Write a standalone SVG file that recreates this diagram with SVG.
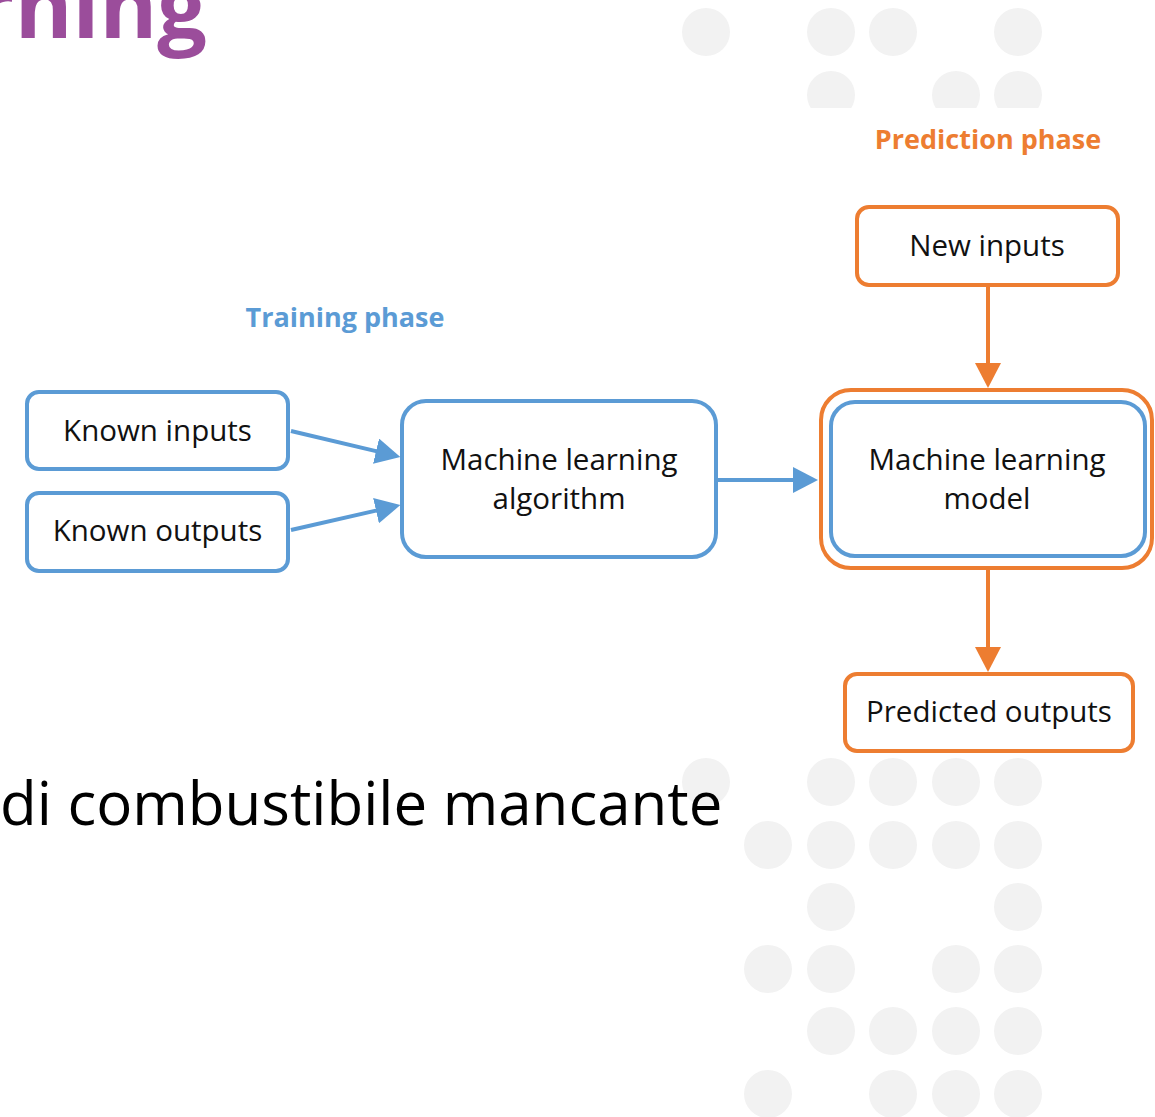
<svg xmlns="http://www.w3.org/2000/svg" width="1155" height="1117" viewBox="0 0 1155 1117">
<style>
.dot{fill:#f2f2f2}
.bx{fill:#fff;stroke-width:4}
.blue{stroke:#5b9bd5}
.orange{stroke:#ed7d31}
.lbl{font-family:"Open Sans","Noto Sans",sans-serif;font-size:29.5px;fill:#111;text-anchor:middle}
.ph{font-family:"Open Sans","Noto Sans",sans-serif;font-size:27px;font-weight:bold;text-anchor:middle}
.cb{stroke:#5b9bd5;stroke-width:4;fill:none}
.co{stroke:#ed7d31;stroke-width:4;fill:none}
</style>
<defs>
<clipPath id="topclip"><rect x="0" y="0" width="1155" height="108"/></clipPath>
<marker id="ahb" markerUnits="userSpaceOnUse" markerWidth="26" markerHeight="26" viewBox="0 0 26 26" refX="1" refY="13" orient="auto"><path d="M0,0 L25,13 L0,26 z" fill="#5b9bd5"/></marker>
<marker id="aho" markerUnits="userSpaceOnUse" markerWidth="26" markerHeight="26" viewBox="0 0 26 26" refX="1" refY="13" orient="auto"><path d="M0,0 L25,13 L0,26 z" fill="#ed7d31"/></marker>
</defs>
<rect width="1155" height="1117" fill="#fff"/>
<g id="dots-top" clip-path="url(#topclip)">
<circle class="dot" cx="706" cy="32" r="24"/><circle class="dot" cx="831" cy="32" r="24"/><circle class="dot" cx="893" cy="32" r="24"/><circle class="dot" cx="1018" cy="32" r="24"/>
<circle class="dot" cx="831" cy="95" r="24"/><circle class="dot" cx="956" cy="95" r="24"/><circle class="dot" cx="1018" cy="95" r="24"/>
</g>
<g id="dots-bottom">
<circle class="dot" cx="706" cy="782" r="24"/><circle class="dot" cx="831" cy="782" r="24"/><circle class="dot" cx="893" cy="782" r="24"/><circle class="dot" cx="956" cy="782" r="24"/><circle class="dot" cx="1018" cy="782" r="24"/>
<circle class="dot" cx="768" cy="845" r="24"/><circle class="dot" cx="831" cy="845" r="24"/><circle class="dot" cx="893" cy="845" r="24"/><circle class="dot" cx="956" cy="845" r="24"/><circle class="dot" cx="1018" cy="845" r="24"/>
<circle class="dot" cx="831" cy="907" r="24"/><circle class="dot" cx="1018" cy="907" r="24"/>
<circle class="dot" cx="768" cy="969" r="24"/><circle class="dot" cx="831" cy="969" r="24"/><circle class="dot" cx="956" cy="969" r="24"/><circle class="dot" cx="1018" cy="969" r="24"/>
<circle class="dot" cx="831" cy="1031" r="24"/><circle class="dot" cx="893" cy="1031" r="24"/><circle class="dot" cx="956" cy="1031" r="24"/><circle class="dot" cx="1018" cy="1031" r="24"/>
<circle class="dot" cx="768" cy="1094" r="24"/><circle class="dot" cx="893" cy="1094" r="24"/><circle class="dot" cx="956" cy="1094" r="24"/><circle class="dot" cx="1018" cy="1094" r="24"/>
</g>
<text id="title" x="207" y="38" font-family="'Open Sans','Noto Sans',sans-serif" font-size="88" font-weight="bold" fill="#9b4d9b" text-anchor="end">rning</text>
<text id="body" x="0" y="825" font-family="'Open Sans','Noto Sans',sans-serif" font-size="60" fill="#000">di combustibile mancante</text>
<text class="ph" x="345" y="327" fill="#5b9bd5">Training phase</text>
<text class="ph" x="988" y="149" fill="#ed7d31">Prediction phase</text>
<g id="connectors">
<line class="cb" x1="291" y1="431" x2="377" y2="451.4" marker-end="url(#ahb)"/>
<line class="cb" x1="291" y1="530" x2="377" y2="510.4" marker-end="url(#ahb)"/>
<line class="cb" x1="718" y1="480" x2="794" y2="480" marker-end="url(#ahb)"/>
<line class="co" x1="988" y1="287" x2="988" y2="364" marker-end="url(#aho)"/>
<line class="co" x1="988" y1="570" x2="988" y2="648" marker-end="url(#aho)"/>
</g>
<g id="known-inputs"><rect class="bx blue" x="27" y="392" width="261" height="77" rx="12"/><text class="lbl" x="157.5" y="441">Known inputs</text></g>
<g id="known-outputs"><rect class="bx blue" x="27" y="493" width="261" height="78" rx="12"/><text class="lbl" x="157.5" y="541">Known outputs</text></g>
<g id="ml-algorithm"><rect class="bx blue" x="402" y="401" width="314" height="156" rx="24"/><text class="lbl" x="559" y="470">Machine learning</text><text class="lbl" x="559" y="509">algorithm</text></g>
<g id="ml-model"><rect class="bx orange" x="821" y="390" width="331" height="178" rx="30"/><rect class="bx blue" x="831" y="402" width="314" height="154" rx="24"/><text class="lbl" x="987" y="470">Machine learning</text><text class="lbl" x="987" y="509">model</text></g>
<g id="new-inputs"><rect class="bx orange" x="857" y="207" width="261" height="78" rx="12"/><text class="lbl" x="987" y="256">New inputs</text></g>
<g id="predicted-outputs"><rect class="bx orange" x="845" y="674" width="288" height="77" rx="12"/><text class="lbl" x="989" y="722">Predicted outputs</text></g>
</svg>
